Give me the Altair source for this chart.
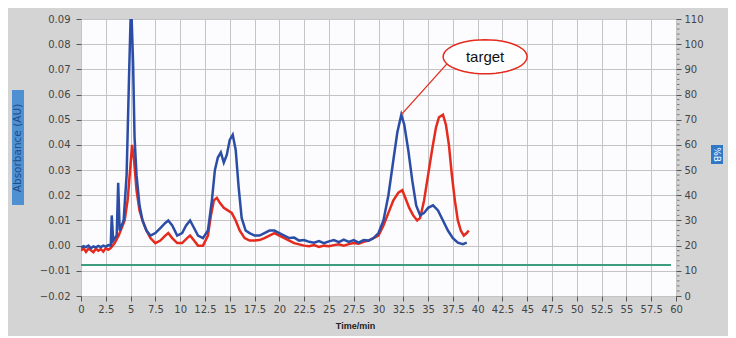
import math
import altair as alt
import pandas as pd

# ---- data ----
blue_t = [0, 0.25, 0.5, 0.75, 1, 1.25, 1.5, 1.75, 2, 2.25, 2.5, 2.75, 3.0, 3.1, 3.25, 3.6, 3.75, 3.9, 4.3,
          4.6, 4.85, 5.0, 5.1, 5.25, 5.4, 5.6, 5.9, 6.2, 6.6, 7.0, 7.5, 8.0, 8.5, 8.8, 9.2, 9.7, 10.2, 10.6,
          11.0, 11.4, 11.8, 12.3, 12.8, 13.2, 13.5, 13.8, 14.1, 14.4, 14.7, 15.0, 15.3, 15.6, 15.9, 16.2,
          16.6, 17.0, 17.5, 18.0, 18.5, 19.0, 19.5, 20.0, 20.5, 21, 21.5, 22, 22.5, 23, 23.5, 24, 24.5, 25,
          25.5, 26, 26.5, 27, 27.5, 28, 28.5, 29, 29.5, 30, 30.5, 31, 31.5, 31.9, 32.3, 32.6, 33.0, 33.4,
          33.8, 34.2, 34.6, 35.0, 35.5, 36.0, 36.5, 37.0, 37.5, 38.0, 38.5, 38.9]
blue_a = [-0.0008, -0.0002, -0.0006, 0.0, -0.001, -0.0003, -0.0007, -0.0001, -0.0006, 0.0, -0.0004, 0.0002,
          0.0, 0.012, 0.002, 0.004, 0.025, 0.006, 0.010, 0.028, 0.068, 0.09, 0.091, 0.073, 0.043, 0.028,
          0.016, 0.010, 0.006, 0.004, 0.005, 0.007, 0.009, 0.010, 0.008, 0.004, 0.005, 0.008, 0.010, 0.007,
          0.004, 0.003, 0.006, 0.018, 0.030, 0.035, 0.037, 0.033, 0.036, 0.042, 0.044, 0.038, 0.023, 0.011,
          0.006, 0.005, 0.004, 0.004, 0.005, 0.006, 0.006, 0.005, 0.004, 0.003, 0.0032, 0.002, 0.0022,
          0.0015, 0.0012, 0.0018, 0.001, 0.0017, 0.0022, 0.0014, 0.0024, 0.0015, 0.0022, 0.0012, 0.0022,
          0.002, 0.003, 0.005, 0.010, 0.020, 0.034, 0.045, 0.052, 0.048, 0.038, 0.026, 0.016, 0.012, 0.013,
          0.015, 0.016, 0.014, 0.010, 0.006, 0.003, 0.0012, 0.0006, 0.0012]

red_t = [0, 0.25, 0.5, 0.75, 1, 1.25, 1.5, 1.75, 2, 2.25, 2.5, 2.75, 3.0, 3.4, 3.8, 4.1, 4.4, 4.7, 4.95,
         5.15, 5.35, 5.6, 5.9, 6.2, 6.6, 7.0, 7.5, 8.0, 8.5, 8.8, 9.2, 9.7, 10.2, 10.7, 11.0, 11.4, 11.8,
         12.3, 12.8, 13.1, 13.4, 13.7, 14.0, 14.4, 14.8, 15.2, 15.6, 16.0, 16.5, 17.0, 17.5, 18, 18.5, 19,
         19.5, 20, 20.5, 21, 21.5, 22, 22.5, 23, 23.5, 24, 24.5, 25, 25.5, 26, 26.5, 27, 27.5, 28, 28.5, 29,
         29.5, 30, 30.5, 31, 31.5, 32, 32.4, 32.7, 33.1, 33.5, 33.9, 34.2, 34.6, 35.0, 35.4, 35.8, 36.1,
         36.5, 36.8, 37.1, 37.4, 37.7, 38.0, 38.3, 38.6, 38.9, 39.1]
red_a = [-0.002, -0.001, -0.0025, -0.0012, -0.0018, -0.0026, -0.0012, -0.002, -0.0014, -0.0024, -0.001,
         -0.0016, -0.001, 0.001, 0.004, 0.007, 0.010, 0.018, 0.030, 0.040, 0.034, 0.022, 0.014, 0.010,
         0.006, 0.003, 0.001, 0.002, 0.004, 0.005, 0.003, 0.001, 0.001, 0.003, 0.004, 0.002, 0.0, 0.0,
         0.004, 0.012, 0.018, 0.019, 0.017, 0.015, 0.014, 0.013, 0.010, 0.006, 0.003, 0.002, 0.002, 0.0022,
         0.003, 0.004, 0.005, 0.004, 0.003, 0.002, 0.001, 0.0005, 0.0, -0.0002, 0.0002, -0.0005, 0.0,
         -0.0002, 0.0002, 0.0005, 0.0, 0.0006, 0.001, 0.0008, 0.0015, 0.002, 0.003, 0.004, 0.008, 0.013,
         0.018, 0.021, 0.022, 0.019, 0.015, 0.012, 0.010, 0.011, 0.018, 0.028, 0.038, 0.047, 0.051, 0.052,
         0.048, 0.040, 0.028, 0.018, 0.010, 0.006, 0.004, 0.005, 0.006]

green_t = [0, 59.5]
green_b = [12.3, 12.3]

x_ticks = [i * 2.5 for i in range(25)]
y_ticks = [round(-0.02 + 0.01 * i, 2) for i in range(12)]
b_ticks = list(range(0, 111, 10))
b_minor = [v for v in range(0, 111, 2) if v % 10 != 0]

peak_t, peak_a = 32.3, 0.052
label_t, label_a = 40.75, 0.075
line_end_t, line_end_a = 36.9, 0.0722

# ---- styling ----
BLUE = "#2B4DA5"
RED = "#E52B1E"
GREEN = "#3C9E7E"
FONT = "DejaVu Sans"

xscale = alt.Scale(domain=[0, 60], nice=False, zero=False)
yscale = alt.Scale(domain=[-0.02, 0.09], nice=False, zero=False)
bscale = alt.Scale(domain=[0, 110], nice=False, zero=False)

xaxis = alt.Axis(values=x_ticks, format=".1~f", title="Time/min", titleFontSize=9, titleFontWeight="bold",
                 titleColor="#222", titlePadding=7, titleX=274, labelFont=FONT, labelFontSize=10,
                 labelColor="#444", tickSize=5, tickColor="#555", domain=False, gridColor="#C4C4C4",
                 labelPadding=3, labelFlush=False, labelOverlap=False)
yaxis = alt.Axis(values=y_ticks, format=".2f", title=None, labelFont=FONT, labelFontSize=10,
                 labelColor="#444", tickSize=5, tickColor="#555", domain=False, gridColor="#C4C4C4",
                 labelPadding=6, labelOverlap=False)

X_T = alt.X("t:Q", scale=xscale, axis=xaxis)
Y_A = alt.Y("a:Q", scale=yscale, axis=yaxis)

df_blue = pd.DataFrame({"t": blue_t, "a": blue_a})
df_red = pd.DataFrame({"t": red_t, "a": red_a})
df_green = pd.DataFrame({"t": green_t, "b": green_b})
df_minor = pd.DataFrame({"b": b_minor})

red_line = alt.Chart(df_red).mark_line(color=RED, strokeWidth=2.5, clip=True).encode(x=X_T, y=Y_A)
blue_line = alt.Chart(df_blue).mark_line(color=BLUE, strokeWidth=2.5, clip=True).encode(x=X_T, y=Y_A)

ann = pd.DataFrame({"t": [peak_t], "a": [peak_a], "t2": [line_end_t], "a2": [line_end_a]})
leader = alt.Chart(ann).mark_rule(color=RED, strokeWidth=1.3).encode(x=X_T, y=Y_A, x2="t2:Q", y2="a2:Q")

n = 48
ell_path = " ".join(
    ("M" if i == 0 else "L") + f"{math.cos(2 * math.pi * i / n):.4f},{0.405 * math.sin(2 * math.pi * i / n):.4f}"
    for i in range(n)
) + " Z"
lab = pd.DataFrame({"t": [label_t], "a": [label_a], "txt": ["target"]})
ellipse = alt.Chart(lab).mark_point(shape=ell_path, size=84 * 84, filled=True, fill="white",
                                    stroke=RED, strokeWidth=1.5, opacity=1).encode(x=X_T, y=Y_A)
ell_text = alt.Chart(lab).mark_text(font="Liberation Sans", fontSize=15, color="#111").encode(
    x=X_T, y=Y_A, text="txt:N"
)

one = pd.DataFrame({"k": [0]})
ltitle_box = alt.Chart(one).mark_rect(color="#4F90D2").encode(
    x=alt.value(-69), x2=alt.value(-57), y=alt.value(71), y2=alt.value(186)
)
ltitle = alt.Chart(pd.DataFrame({"s": ["Absorbance (AU)"]})).mark_text(
    angle=270, font=FONT, fontSize=10.5, color="#1F4C85"
).encode(x=alt.value(-63), y=alt.value(129), text="s:N")

left = alt.layer(red_line, blue_line, leader, ellipse, ell_text, ltitle_box, ltitle)

baxis = alt.Axis(orient="right", values=b_ticks, title=None, grid=False, labelFont=FONT, labelFontSize=10,
                 labelColor="#444", tickSize=5, tickColor="#555", domain=False, labelPadding=3,
                 labelOverlap=False)
Y_B = alt.Y("b:Q", scale=bscale, axis=baxis)

green_line = alt.Chart(df_green).mark_line(color=GREEN, strokeWidth=2).encode(x=X_T, y=Y_B)
minor_ticks = alt.Chart(df_minor).mark_rule(color="#777", strokeWidth=1).encode(
    x=alt.value(596), x2=alt.value(598.5), y=Y_B
)
rtitle_box = alt.Chart(one).mark_rect(color="#2F78C8").encode(
    x=alt.value(630), x2=alt.value(642), y=alt.value(126), y2=alt.value(145)
)
rtitle = alt.Chart(pd.DataFrame({"s": ["%B"]})).mark_text(
    angle=90, font=FONT, fontSize=9, color="white"
).encode(x=alt.value(636), y=alt.value(135.5), text="s:N")

right = alt.layer(green_line, minor_ticks, rtitle_box, rtitle)

chart = alt.layer(left, right).resolve_scale(y="independent").properties(
    width=595, height=277,
    autosize=alt.AutoSizeParams(type="none"),
    padding={"left": 73, "top": 11, "right": 52, "bottom": 40},
    background="#D4D4D4",
).configure_view(fill="#FCFCFE", stroke="#9A9A9A", strokeWidth=1)

chart.save("out.html", embed_options={"renderer": "svg", "actions": False})
